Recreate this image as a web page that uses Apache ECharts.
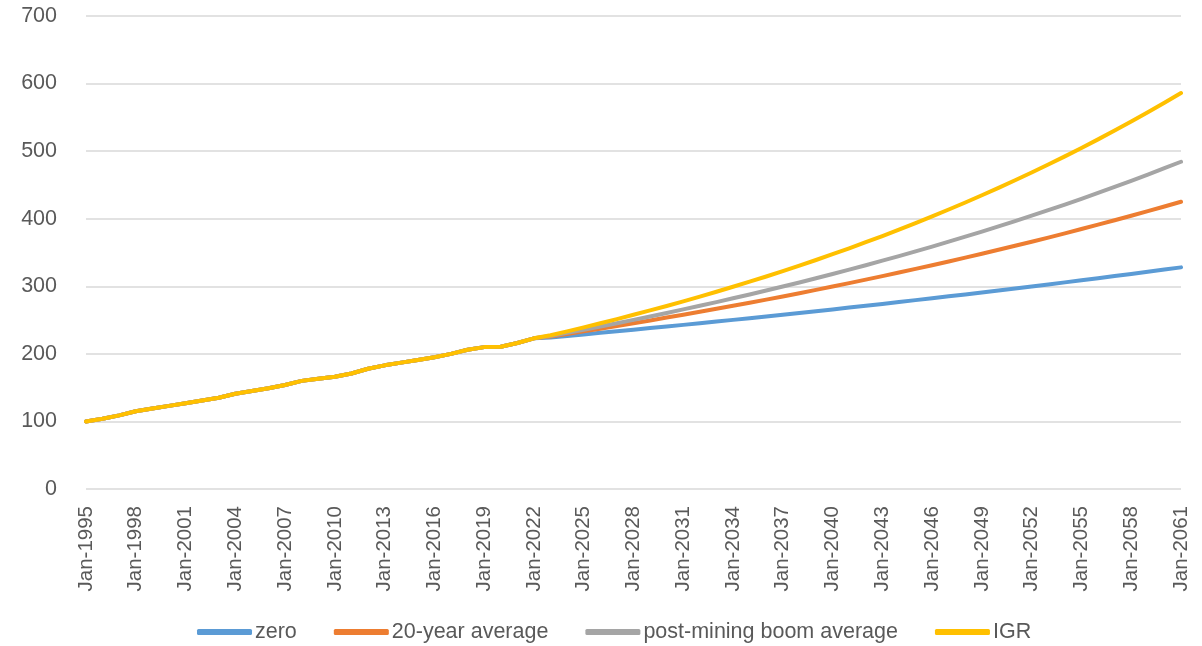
<!DOCTYPE html>
<html>
<head>
<meta charset="utf-8">
<script src="https://cdn.jsdelivr.net/npm/echarts@6/dist/echarts.min.js"></script>
<style>
  html, body { margin: 0; padding: 0; background: #fff; }
  #chart { width: 1202px; height: 646px; }
</style>
</head>
<body>
<div id="chart"></div>
<script>
// years on the axis, Jan-1995 .. Jan-2061
var firstYear = 1995;
var lastYear = 2061;
var categories = [];
for (var y = firstYear; y <= lastYear; y++) categories.push('Jan-' + y);

// actuals 1995-2022, shared by every scenario
var actuals = [100, 104, 109, 115, 119, 123, 127, 131, 135, 141, 145, 149, 154, 160,
  163, 166, 171, 178, 183, 187, 191, 195, 200, 206, 210, 210.5, 216, 223];

// projections 2023-2061
var zeroProj = [224.2, 226.5, 228.8, 231.1, 233.4, 235.7, 238.1, 240.5, 242.9, 245.4,
  247.8, 250.3, 252.8, 255.4, 258.0, 260.6, 263.2, 265.8, 268.5, 271.2,
  273.9, 276.7, 279.5, 282.3, 285.1, 288.0, 290.9, 293.8, 296.8, 299.8,
  302.8, 305.8, 308.9, 312.0, 315.1, 318.3, 321.5, 324.7, 328.0];
var avg20Proj = [225.7, 229.5, 233.4, 237.3, 241.3, 245.3, 249.5, 253.7, 257.9, 262.2,
  266.7, 271.1, 275.7, 280.3, 285.0, 289.8, 294.7, 299.6, 304.7, 309.8,
  315.0, 320.3, 325.7, 331.1, 336.7, 342.4, 348.1, 354.0, 359.9, 365.9,
  372.1, 378.3, 384.7, 391.2, 397.7, 404.4, 411.2, 418.1, 425.1];
var postMiningProj = [226.5, 231.1, 235.7, 240.5, 245.4, 250.3, 255.4, 260.5, 265.8, 271.2,
  276.6, 282.2, 287.9, 293.7, 299.7, 305.7, 311.9, 318.2, 324.6, 331.2,
  337.9, 344.7, 351.7, 358.8, 366.0, 373.4, 381.0, 388.6, 396.5, 404.5,
  412.7, 421.0, 429.5, 438.2, 447.0, 456.1, 465.3, 474.7, 484.3];
var igrProj = [227.6, 233.3, 239.2, 245.2, 251.4, 257.8, 264.3, 270.9, 277.7, 284.7,
  291.9, 299.3, 306.8, 314.5, 322.5, 330.6, 338.9, 347.5, 356.2, 365.2,
  374.4, 383.8, 393.5, 403.4, 413.6, 424.0, 434.7, 445.7, 456.9, 468.4,
  480.2, 492.3, 504.7, 517.4, 530.5, 543.8, 557.5, 571.6, 586.0];

var seriesNames = ['zero', '20-year average', 'post-mining boom average', 'IGR'];
var seriesColors = ['#5B9BD5', '#ED7D31', '#A5A5A5', '#FFC000'];
var projections = [zeroProj, avg20Proj, postMiningProj, igrProj];

var yTicks = { min: 0, max: 700, interval: 100 };

var font = '"Liberation Sans", Arial, sans-serif';
var textColor = '#595959';
var gridColor = '#D9D9D9';

var chart = echarts.init(document.getElementById('chart'), null, { renderer: 'canvas' });

var series = seriesNames.map(function(name, i) {
  return {
    name: name,
    type: 'line',
    data: actuals.concat(projections[i]),
    symbol: 'none',
    smooth: false,
    color: seriesColors[i],
    lineStyle: { width: 4, color: seriesColors[i], cap: 'round', join: 'round' },
    emphasis: { disabled: true }
  };
});

chart.setOption({
  animation: false,
  grid: { left: 86, right: 21, top: 16, bottom: 157 },
  legend: {
    data: seriesNames,
    left: 192,
    top: 616,
    icon: 'roundRect',
    itemWidth: 55,
    itemHeight: 6,
    itemGap: 37,
    textStyle: { color: textColor, fontSize: 21.5, fontFamily: font, padding: [0, 0, 0, -2] }
  },
  xAxis: {
    type: 'category',
    data: categories,
    boundaryGap: false,
    axisLine: { show: false },
    axisTick: { show: false },
    splitLine: { show: false },
    axisLabel: {
      color: textColor,
      fontSize: 20.5,
      fontFamily: font,
      rotate: 90,
      interval: 2,
      margin: 17
    }
  },
  yAxis: {
    type: 'value',
    min: yTicks.min,
    max: yTicks.max,
    interval: yTicks.interval,
    axisLine: { show: false },
    axisTick: { show: false },
    splitLine: { lineStyle: { color: gridColor, width: 1.5 } },
    axisLabel: { color: textColor, fontSize: 21.5, fontFamily: font, margin: 29 }
  },
  series: series
});

window.addEventListener('resize', function() { chart.resize(); });
</script>
</body>
</html>
